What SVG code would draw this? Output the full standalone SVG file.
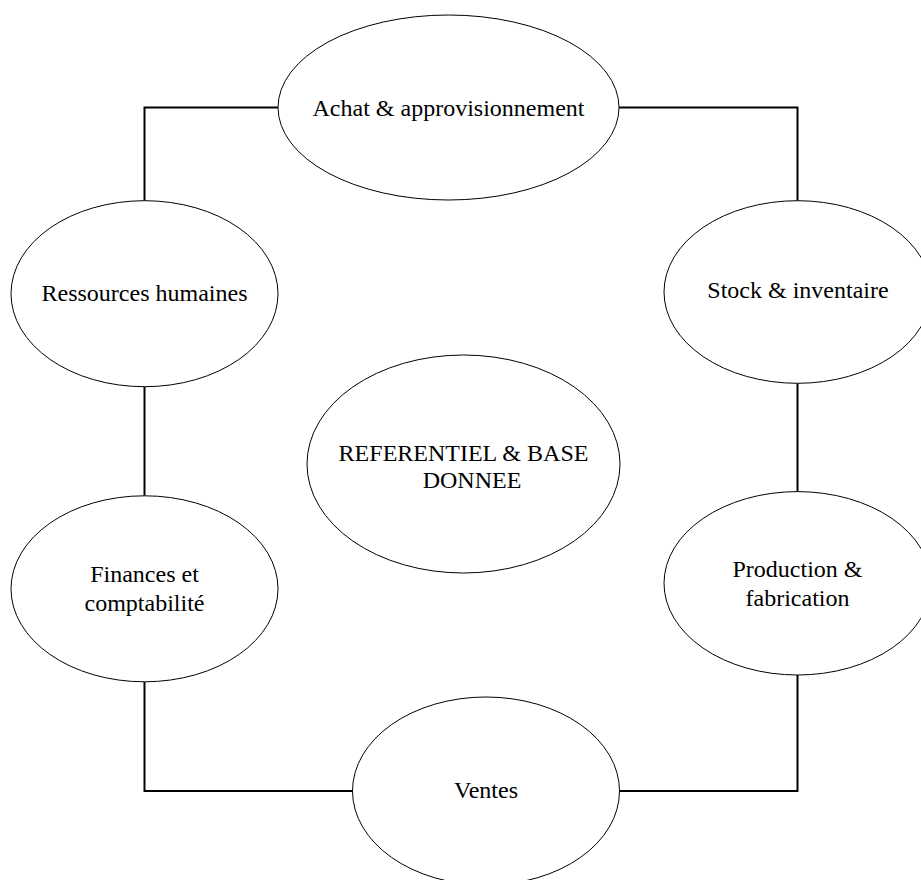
<svg xmlns="http://www.w3.org/2000/svg" width="921" height="880" viewBox="0 0 921 880">
<style>
.node ellipse{fill:#fff;stroke:#000;stroke-width:1}
.node text{font-family:"Liberation Serif","Times New Roman",serif;font-size:24px;fill:#000;text-anchor:middle}
#connectors path{fill:none;stroke:#000;stroke-width:2}
</style>
<rect width="921" height="880" fill="#fff"/>
<g id="connectors">
<path d="M278,107.5 H144.5 V200.7"/>
<path d="M619,107.5 H797.5 V200.7"/>
<path d="M144.5,386.7 V495.7"/>
<path d="M797.5,383.3 V491.7"/>
<path d="M144.5,682 V791 H352.5"/>
<path d="M797.5,675 V791 H619.5"/>
</g>
<g id="achat" class="node">
<ellipse cx="448.5" cy="107.5" rx="170.5" ry="92.5"/>
<text x="448.5" y="115.5">Achat &amp; approvisionnement</text>
</g>
<g id="rh" class="node">
<ellipse cx="144.5" cy="293.7" rx="133.5" ry="93"/>
<text x="144.5" y="300.7">Ressources humaines</text>
</g>
<g id="stock" class="node">
<ellipse cx="797.5" cy="292" rx="133.5" ry="91.3"/>
<text x="798" y="298.3">Stock &amp; inventaire</text>
</g>
<g id="referentiel" class="node">
<ellipse cx="463.5" cy="464" rx="156.5" ry="109"/>
<text x="463.5" y="460.7">REFERENTIEL &amp; BASE</text>
<text x="472" y="488">DONNEE</text>
</g>
<g id="finances" class="node">
<ellipse cx="144.5" cy="588.8" rx="133.5" ry="93"/>
<text x="144.5" y="581.7">Finances et</text>
<text x="144.5" y="611">comptabilité</text>
</g>
<g id="production" class="node">
<ellipse cx="797.5" cy="583.3" rx="133.5" ry="91.7"/>
<text x="797.5" y="576.7">Production &amp;</text>
<text x="797.5" y="606">fabrication</text>
</g>
<g id="ventes" class="node">
<ellipse cx="486" cy="791" rx="133.5" ry="94"/>
<text x="486" y="798.3">Ventes</text>
</g>
</svg>
